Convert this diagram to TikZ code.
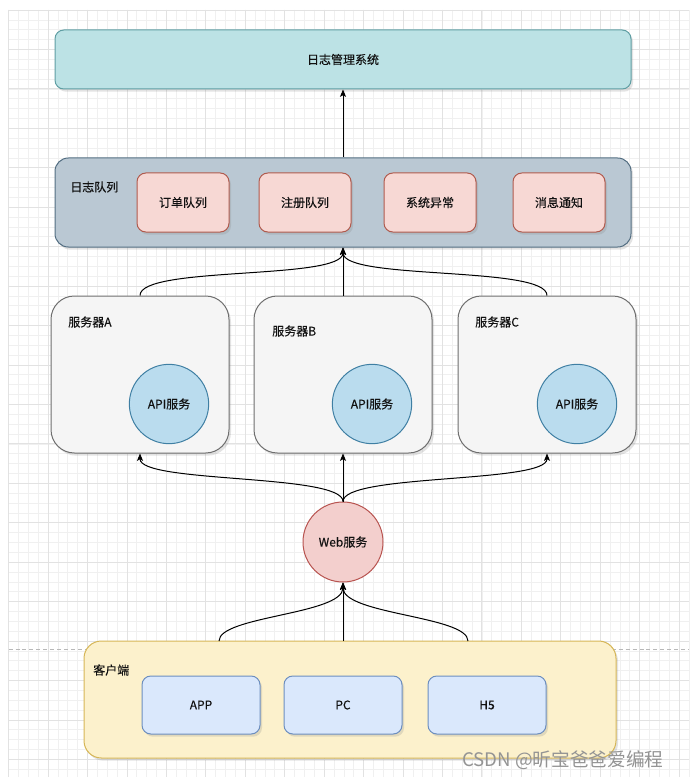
\documentclass[tikz,border=0pt]{standalone}
\usepackage{fontspec}
\setmainfont{Noto Sans CJK SC}[BoldFont={Noto Sans CJK SC},BoldFeatures={FakeBold=0.3}]
\usetikzlibrary{arrows.meta,shadows}
\definecolor{txt}{HTML}{111111}
\definecolor{gridminor}{HTML}{F0F0F0}
\definecolor{gridmajor}{HTML}{E2E2E2}
\definecolor{topfill}{HTML}{BCE2E5}
\definecolor{topline}{HTML}{5F9EA3}
\definecolor{qfill}{HTML}{BAC8D3}
\definecolor{qline}{HTML}{536E82}
\definecolor{pfill}{HTML}{F7D8D4}
\definecolor{pline}{HTML}{B05A4D}
\definecolor{sfill}{HTML}{F5F5F5}
\definecolor{sline}{HTML}{6E6E6E}
\definecolor{afill}{HTML}{BADCEE}
\definecolor{aline}{HTML}{3F7FA3}
\definecolor{wfill}{HTML}{F3CFCD}
\definecolor{wline}{HTML}{B85450}
\definecolor{cfill}{HTML}{FCF1CC}
\definecolor{cline}{HTML}{D6B656}
\definecolor{dfill}{HTML}{DAE8FC}
\definecolor{dline}{HTML}{6C8EBF}
\newcommand{\fs}{\fontsize{9}{11}\selectfont\bfseries}
\begin{document}
\begin{tikzpicture}[x=0.75pt,y=-0.75pt,
  every node/.style={font=\fs, text=txt},
  shbox/.style={draw, line width=0.75pt, inner sep=0pt,
    drop shadow={shadow xshift=1.5pt, shadow yshift=-2pt, opacity=0.22}},
  topbox/.style={shbox, fill=topfill, draw=topline, rounded corners=6.6pt,
    minimum width=432pt, minimum height=44.25pt},
  qbox/.style={shbox, fill=qfill, draw=qline, rounded corners=10pt,
    minimum width=432pt, minimum height=66.75pt},
  pbox/.style={shbox, fill=pfill, draw=pline, rounded corners=6.6pt,
    minimum width=69pt, minimum height=44.25pt},
  sbox/.style={shbox, fill=sfill, draw=sline, rounded corners=17.5pt,
    minimum width=133.5pt, minimum height=117.75pt},
  api/.style={circle, draw=aline, fill=afill, line width=0.75pt,
    minimum size=59.5pt, inner sep=0pt},
  web/.style={circle, draw=wline, fill=wfill, line width=0.75pt,
    minimum size=60pt, inner sep=0pt},
  cbox/.style={shbox, fill=cfill, draw=cline, rounded corners=13pt,
    minimum width=399pt, minimum height=87.75pt},
  dbox/.style={shbox, fill=dfill, draw=dline, rounded corners=6.6pt,
    minimum width=88.5pt, minimum height=43.5pt},
  lbl/.style={anchor=west, inner sep=0pt},
  arr/.style={line width=0.75pt, draw=black,
    -{Stealth[length=5.5pt,width=4.5pt,inset=1.2pt]}}
]
\useasboundingbox (0,0) rectangle (689,777);
\fill[white] (0,0) rectangle (689,777);
% background grid
\foreach \i in {0,...,69}{
  \draw[gridminor, line width=0.5pt] ({8.6+\i*9.86},10) -- ({8.6+\i*9.86},777);
}
\foreach \j in {0,...,77}{
  \draw[gridminor, line width=0.5pt] (8.6,{10+\j*9.86}) -- (689,{10+\j*9.86});
}
\foreach \i in {0,4,...,68}{
  \draw[gridmajor, line width=0.6pt] ({8.6+\i*9.86},10) -- ({8.6+\i*9.86},777);
}
\foreach \j in {0,4,...,76}{
  \draw[gridmajor, line width=0.6pt] (8.6,{10+\j*9.86}) -- (689,{10+\j*9.86});
}
% page break line
\draw[black!28, line width=0.6pt, dash pattern=on 3pt off 2.2pt] (8.6,649.5) -- (689,649.5);

% top
\node[topbox] (top) at (343,59.5) {日志管理系统};
% queue
\node[qbox] (queue) at (343,202.5) {};
\node[lbl] (qlabel) at (70,187) {日志队列};
\node[pbox] (q1) at (183,202.5) {订单队列};
\node[pbox] (q2) at (305,202.5) {注册队列};
\node[pbox] (q3) at (430,202.5) {系统异常};
\node[pbox] (q4) at (559,202.5) {消息通知};
% servers
\node[sbox] (sA) at (140,374.5) {};
\node[sbox] (sB) at (343,374.5) {};
\node[sbox] (sC) at (547,374.5) {};
\node[lbl] (sAl) at (68,322) {服务器A};
\node[lbl] (sBl) at (272,331) {服务器B};
\node[lbl] (sCl) at (475,322) {服务器C};
\node[api] (apiA) at (169,404) {API服务};
\node[api] (apiB) at (372,404) {API服务};
\node[api] (apiC) at (577,404) {API服务};
% web
\node[web] (web) at (343,542) {Web服务};
% client
\node[cbox] (client) at (350,699.5) {};
\node[lbl] (cl) at (93,670) {客户端};
\node[dbox] (app) at (201,705) {APP};
\node[dbox] (pc) at (343,705) {PC};
\node[dbox] (h5) at (487,705) {H5};
\coordinate (cL) at (219,641);
\coordinate (cM) at (343,641);
\coordinate (cR) at (468,641);

% connectors
\draw[arr] (queue.north) -- (top.south);
\draw[arr] (sA.north) .. controls +(0,-30) and +(0,33) .. (queue.south);
\draw[arr] (sB.north) -- (queue.south);
\draw[arr] (sC.north) .. controls +(0,-30) and +(0,33) .. (queue.south);
\draw[arr] (web.north) .. controls +(0,-28) and +(0,30) .. (sA.south);
\draw[arr] (web.north) -- (sB.south);
\draw[arr] (web.north) .. controls +(0,-28) and +(0,30) .. (sC.south);
\draw[arr] (cL) .. controls +(0,-25) and +(0,32) .. (web.south);
\draw[arr] (cM) -- (web.south);
\draw[arr] (cR) .. controls +(0,-25) and +(0,32) .. (web.south);

% watermark
\node[anchor=west, inner sep=0pt, text=black!42, font=\fontsize{14}{16}\selectfont\mdseries] (wm) at (462,760) {CSDN @昕宝爸爸爱编程};
\end{tikzpicture}
\end{document}
